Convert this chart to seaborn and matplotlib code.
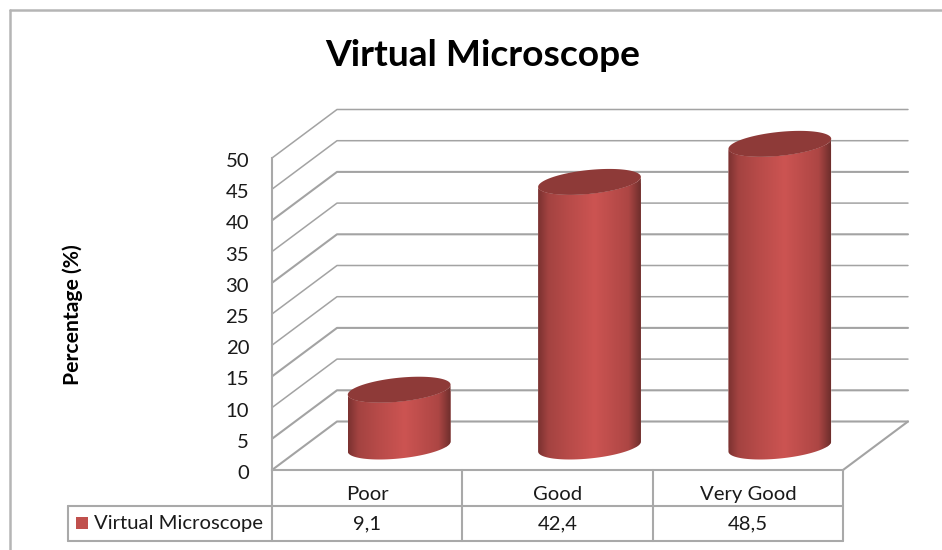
import numpy as np
import pandas as pd
import seaborn as sns
import matplotlib
matplotlib.use("Agg")
import matplotlib.pyplot as plt
from matplotlib.colors import LinearSegmentedColormap
from matplotlib.lines import Line2D
from matplotlib.patches import Rectangle, Polygon
from matplotlib.path import Path
from matplotlib.transforms import Affine2D

categories = ["Poor", "Good", "Very Good"]
values = [9.1, 42.4, 48.5]
value_labels = ["9,1", "42,4", "48,5"]
series_name = "Virtual Microscope"
y_ticks = list(range(0, 55, 5))
y_label = "Percentage (%)"

W, H = 942, 550
GRAY = "#a9a9a9"
TEXT = "#1a1a1a"
FS = 14.6
sns.set_theme(style="white")
plt.rcParams["font.family"] = ["Lato", "DejaVu Sans"]

fig = plt.figure(figsize=(W / 100, H / 100), dpi=100, facecolor="white")
L, R, T, B = 272, 843, 158, 470
ax = fig.add_axes([L / W, 1 - B / H, (R - L) / W, (B - T) / H], facecolor="none")
df = pd.DataFrame({"category": categories, "value": values})
sns.barplot(data=df, x="category", y="value", color="#c0504d", width=0.54, ax=ax, zorder=2)
ax.set_xlim(-0.5, 2.5)
ax.set_ylim(0, 50)
ax.autoscale(False)

px_x = 3 / (R - L)
px_y = 50 / (B - T)
DX, DY = 65, 48.5
x0 = -0.5
x1 = 2.5

# walls and floor
for v in y_ticks:
    lw = 1.5 if v in (0, 5, 15, 30, 40) else 1.1
    ax.plot([x0, x0 + DX * px_x, x1 + DX * px_x], [v, v + DY * px_y, v + DY * px_y],
            color="#a3a3a3", lw=lw, clip_on=False, zorder=1, solid_capstyle="round")
ax.plot([x1, x1 + DX * px_x], [0, DY * px_y], color="#a3a3a3", lw=1.5, clip_on=False, zorder=1)

# cylinders built on the seaborn bars
shade = LinearSegmentedColormap.from_list(
    "cyl", [(0, "#7a3130"), (0.10, "#a34341"), (0.30, "#b84b49"), (0.55, "#cc5452"),
            (0.88, "#ad4644"), (1, "#6e2e2c")])
grad = np.linspace(0, 1, 256)[None, :]
offset = ax.transData + Affine2D().translate(32, 23.5)
b = 12 * px_y
tilt = 5 * px_y
t_low = np.linspace(np.pi, 2 * np.pi, 80)
t_all = np.linspace(0, 2 * np.pi, 160)
for bar in list(ax.patches):
    x, w, h = bar.get_x(), bar.get_width(), bar.get_height()
    cx, a = x + w / 2, w / 2
    ex = lambda t: cx + a * np.cos(t)
    ey = lambda t, c: c + tilt * np.cos(t) + b * np.sin(t)
    body = np.vstack([np.column_stack([ex(t_low), ey(t_low, 0)]),
                      np.column_stack([ex(t_low[::-1]), ey(t_low[::-1], h)])])
    path = Path(np.vstack([body, body[:1]]), closed=True)
    bar.set_transform(offset)
    bar.set_clip_box(None)
    bar.set_clip_path(path, offset)
    im = ax.imshow(grad, cmap=shade, aspect="auto", extent=(x, x + w, -2 * b, h + 2 * b),
                   transform=offset, zorder=3, interpolation="bilinear")
    im.set_clip_box(fig.bbox)
    im.set_clip_path(path, offset)
    ax.add_patch(Polygon(np.column_stack([ex(t_all), ey(t_all, h)]), closed=True, clip_on=False,
                         facecolor="#8e3a38", edgecolor="none", transform=offset, zorder=4))
ax.set_xlim(x0, x1)
ax.set_ylim(0, 50)

# axes and labels
sns.despine(ax=ax, top=True, right=True)
for side in ("left", "bottom"):
    ax.spines[side].set_color(GRAY)
    ax.spines[side].set_linewidth(1.5)
ax.set_yticks(y_ticks)
ax.tick_params(axis="y", length=0, pad=16.5, labelsize=FS, labelcolor=TEXT)
ax.tick_params(axis="x", length=0, pad=11.5, labelsize=FS, labelcolor=TEXT)
ax.set_xlabel("")
ax.set_ylabel(y_label, fontsize=15.2, fontweight="bold", color="black")
ax.yaxis.set_label_coords((83 - L) / (R - L), (B - 315) / (B - T))
for lab in ax.get_yticklabels():
    lab.set_transform(lab.get_transform() + Affine2D().translate(0, -2))

fig.text(483 / W, 1 - 55.5 / H, series_name, ha="center", va="center",
         fontsize=26.7, fontweight="bold", color="black")

# data table under the plot (pixel coordinates)
pix = Affine2D().scale(1, -1).translate(0, H)
def seg(xs, ys, color=GRAY, lw=1.5):
    fig.add_artist(Line2D(xs, ys, color=color, lw=lw, transform=pix))
col_edges = [L + (R - L) * i / len(categories) for i in range(len(categories) + 1)]
row1, row2 = 506, 541
for xe in col_edges:
    seg([xe, xe], [B, row2])
seg([68, R], [row1, row1])
seg([68, R], [row2, row2])
seg([68, 68], [row1, row2])
for i, lab in enumerate(value_labels):
    fig.text((col_edges[i] + col_edges[i + 1]) / 2 / W, 1 - 523.5 / H, lab, ha="center",
             va="center", fontsize=FS, color=TEXT)
fig.add_artist(Rectangle((76, 517), 12, 12, facecolor="#c0504d", edgecolor="none", transform=pix))
fig.text(94 / W, 1 - 523.5 / H, series_name, ha="left", va="center", fontsize=FS, color=TEXT)

# outer chart frame
seg([10, 10], [10, H], color="#b5b5b5", lw=1.8)
seg([10, W], [10, 10], color="#b5b5b5", lw=1.8)

fig.savefig("out.png", dpi=100)
